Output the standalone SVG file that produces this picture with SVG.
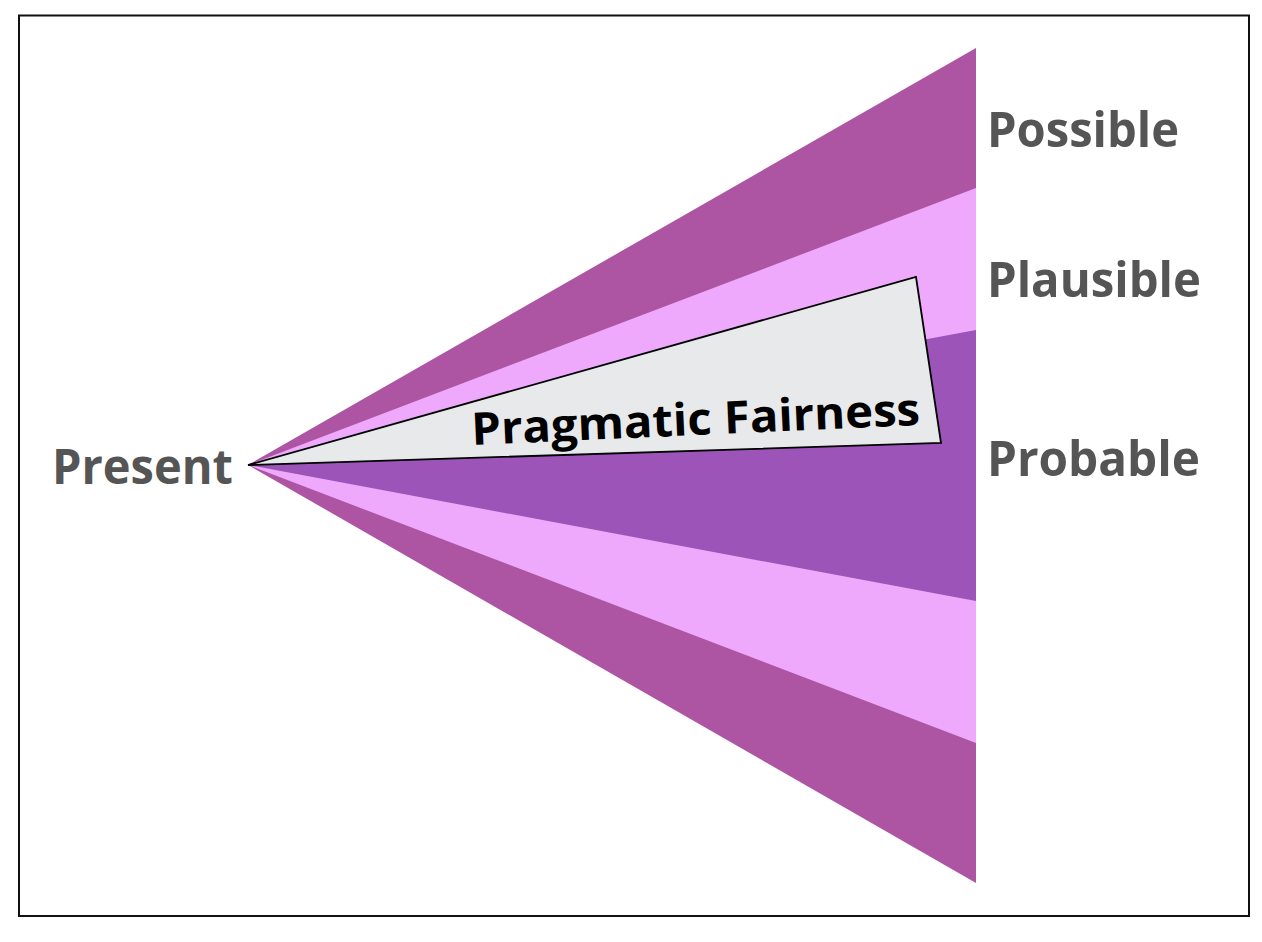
<svg xmlns="http://www.w3.org/2000/svg" width="1262" height="942" viewBox="0 0 1262 942">
<style>
.lbl{font-family:"Open Sans","Liberation Sans",sans-serif;font-weight:700;font-size:49px;fill:#555555}
.dark{fill:#AD55A3}
.pink{fill:#EEA9FD}
.prob{fill:#9D54B8}
</style>
<rect x="0" y="0" width="1262" height="942" fill="#ffffff"/>
<rect x="19" y="15.5" width="1230" height="900.5" fill="none" stroke="#111111" stroke-width="2"/>
<g id="cone">
<g id="possible"><polygon class="dark" points="248,465 976,48 976,883"/></g>
<g id="plausible"><polygon class="pink" points="248,465 976,188 976,743"/></g>
<g id="probable"><polygon class="prob" points="248,465 976,330 976,601"/></g>
</g>
<g id="connectors"></g>
<g id="pragmatic-fairness">
<polygon points="248,465 916,277 941,443" fill="#E8E9EB" stroke="#000000" stroke-width="1.8" stroke-linejoin="miter"/>
<text transform="translate(472,445) rotate(-2.56)" font-family="'Open Sans','Liberation Sans',sans-serif" font-weight="700" font-size="45" fill="#000000" textLength="449" lengthAdjust="spacingAndGlyphs">Pragmatic Fairness</text>
</g>
<g id="present"><text class="lbl" x="52" y="484" textLength="181" lengthAdjust="spacingAndGlyphs">Present</text></g>
<g id="possible-label"><text class="lbl" x="987" y="147" textLength="192" lengthAdjust="spacingAndGlyphs">Possible</text></g>
<g id="plausible-label"><text class="lbl" x="987" y="297" textLength="214" lengthAdjust="spacingAndGlyphs">Plausible</text></g>
<g id="probable-label"><text class="lbl" x="987" y="476" textLength="213" lengthAdjust="spacingAndGlyphs">Probable</text></g>
</svg>
